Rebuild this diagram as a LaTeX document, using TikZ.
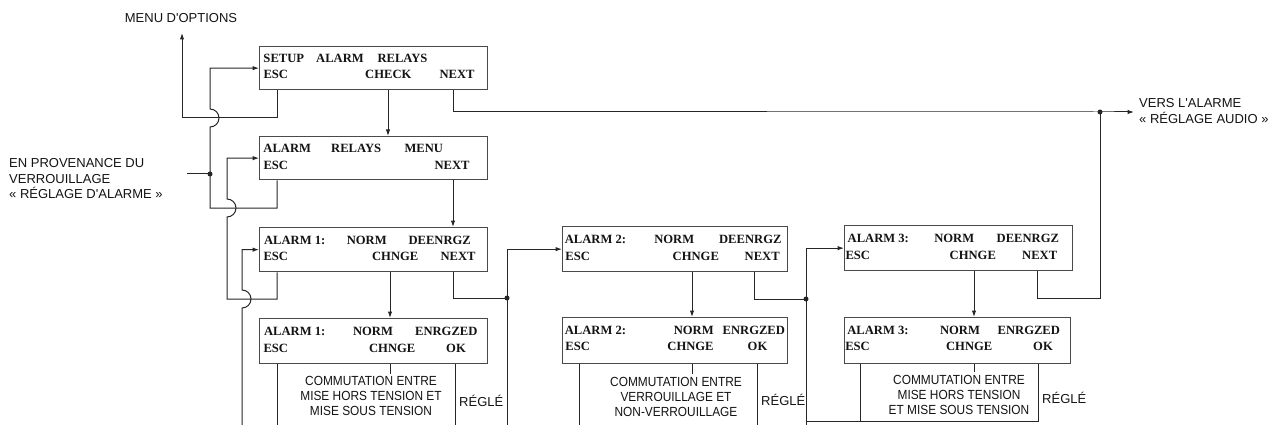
\documentclass[tikz,border=0pt]{standalone}
\usepackage{fontspec}
\setmainfont{Liberation Serif}
\newfontfamily\lsans{Liberation Sans}
\newfontfamily\lsansc{Liberation Sans}[FakeStretch=0.9]
\usetikzlibrary{arrows.meta}
\definecolor{ln}{HTML}{262626}
\definecolor{bx}{HTML}{4A4A4A}
\definecolor{tx}{HTML}{141414}
\tikzset{
  conn/.style={draw=ln, line width=1pt},
  arr/.style={conn, -{Latex[length=6.5pt,width=4.5pt]}},
  boxn/.style={draw=bx, line width=1.3pt, anchor=north west, inner sep=0pt},
  wd/.style={font=\bfseries\fontsize{12.6}{14}\selectfont, inner sep=0pt, text=tx},
  lab/.style={font=\lsans\fontsize{13}{15.5}\selectfont, inner sep=0pt, align=left, text=tx},
  com/.style={font=\lsansc\fontsize{13.2}{15.3}\selectfont, fill=white, inner sep=1.5pt, align=center, text=tx},
  rg/.style={font=\lsans\fontsize{13}{15}\selectfont, inner sep=1pt, anchor=west, text=tx},
  dot/.style={circle, fill=ln, inner sep=0pt, minimum size=5pt},
}
\begin{document}
\begin{tikzpicture}[x=1pt,y=-1pt]
\fill[white] (0,0) rectangle (1272,425);
\useasboundingbox (0,0) rectangle (1272,425);

% column coordinates
\coordinate (c210) at (210,0);
\coordinate (c227) at (227,0);
\coordinate (c242) at (242,0);
\coordinate (c277) at (277,0);
\coordinate (c388) at (388,0);
\coordinate (c390) at (390,0);
\coordinate (c453) at (453,0);
\coordinate (c455) at (455,0);
\coordinate (c507) at (507,0);
\coordinate (c579) at (579,0);
\coordinate (c692) at (692,0);
\coordinate (c754) at (754,0);
\coordinate (c757) at (757,0);
\coordinate (c806) at (806,0);
\coordinate (c860) at (860,0);
\coordinate (c974) at (974,0);
\coordinate (c1037) at (1037,0);
\coordinate (c1038) at (1038,0);

% junctions and free ends
\coordinate (jIn) at (210,174);
\coordinate (inL) at (187,174);
\coordinate (jR) at (1100,112);
\coordinate (vTip) at (1134,112);
\coordinate (jC) at (507,298);
\coordinate (jE) at (806,299);
\coordinate (mB) at (182,118);
\coordinate (mTip) at (182,33);
\coordinate (b242) at (242,425);
\coordinate (b277) at (277,425);
\coordinate (b455) at (455,425);
\coordinate (b507) at (507,425);
\coordinate (b579) at (579,425);
\coordinate (b757) at (757,425);
\coordinate (b806) at (806,425);
\coordinate (h860) at (860,421);
\coordinate (hL) at (806,421);
\coordinate (hR) at (1038,421);

% labels
\node[lab, anchor=center] (menu) at (181,18) {MENU D'OPTIONS};
\node[lab, anchor=west] (prov) at (9,179) {EN PROVENANCE DU\\VERROUILLAGE\\« RÉGLAGE D'ALARME »};
\node[lab, anchor=west] (vers) at (1139,111) {VERS L'ALARME\\« RÉGLAGE AUDIO »};

% boxes
\node[boxn, minimum width=228pt, minimum height=43pt] (A) at (259,46) {};
\node[boxn, minimum width=228pt, minimum height=43pt] (B) at (259,136) {};
\node[boxn, minimum width=228pt, minimum height=44pt] (C) at (259,227) {};
\node[boxn, minimum width=228pt, minimum height=45pt] (D) at (259,318) {};
\node[boxn, minimum width=225pt, minimum height=45pt] (E) at (562,226) {};
\node[boxn, minimum width=225pt, minimum height=46pt] (F) at (562,317) {};
\node[boxn, minimum width=228pt, minimum height=45pt] (G) at (844,225) {};
\node[boxn, minimum width=226pt, minimum height=46pt] (H) at (844,317) {};

% box A words
\node[wd] (A1) at (283.8,58.5) {SETUP};
\node[wd] (A2) at (340,58.5) {ALARM};
\node[wd] (A3) at (402.5,58.5) {RELAYS};
\node[wd] (A4) at (275.8,74.5) {ESC};
\node[wd] (A5) at (388.3,74.5) {CHECK};
\node[wd] (A6) at (457,74.5) {NEXT};
% box B words
\node[wd] (B1) at (287.2,148) {ALARM};
\node[wd] (B2) at (356.2,148) {RELAYS};
\node[wd] (B3) at (423.8,148) {MENU};
\node[wd] (B4) at (275.8,165) {ESC};
\node[wd] (B5) at (452,165) {NEXT};
% box C words
\node[wd] (C1) at (294.7,240) {ALARM 1:};
\node[wd] (C2) at (366.7,240) {NORM};
\node[wd] (C3) at (439.7,240) {DEENRGZ};
\node[wd] (C4) at (275.8,256.7) {ESC};
\node[wd] (C5) at (395.2,256.7) {CHNGE};
\node[wd] (C6) at (458,256.7) {NEXT};
% box D words
\node[wd] (D1) at (294.7,331.7) {ALARM 1:};
\node[wd] (D2) at (373,331.7) {NORM};
\node[wd] (D3) at (446.3,331.7) {ENRGZED};
\node[wd] (D4) at (275.8,348.3) {ESC};
\node[wd] (D5) at (392.2,348.3) {CHNGE};
\node[wd] (D6) at (456,348.3) {OK};
% box E words
\node[wd] (E1) at (595.5,239.3) {ALARM 2:};
\node[wd] (E2) at (674.2,239.3) {NORM};
\node[wd] (E3) at (750.3,239.3) {DEENRGZ};
\node[wd] (E4) at (577.7,256) {ESC};
\node[wd] (E5) at (695.8,256) {CHNGE};
\node[wd] (E6) at (762.2,256) {NEXT};
% box F words
\node[wd] (F1) at (595.5,330.7) {ALARM 2:};
\node[wd] (F2) at (693.7,330.7) {NORM};
\node[wd] (F3) at (753.8,330.7) {ENRGZED};
\node[wd] (F4) at (577.7,346.7) {ESC};
\node[wd] (F5) at (690.5,346.7) {CHNGE};
\node[wd] (F6) at (757.5,346.7) {OK};
% box G words
\node[wd] (G1) at (878.3,238.3) {ALARM 3:};
\node[wd] (G2) at (954.2,238.3) {NORM};
\node[wd] (G3) at (1027.8,238.3) {DEENRGZ};
\node[wd] (G4) at (857.8,255) {ESC};
\node[wd] (G5) at (972.8,255) {CHNGE};
\node[wd] (G6) at (1039.7,255) {NEXT};
% box H words
\node[wd] (H1) at (878,330) {ALARM 3:};
\node[wd] (H2) at (960,330) {NORM};
\node[wd] (H3) at (1028.8,330) {ENRGZED};
\node[wd] (H4) at (857.5,346.7) {ESC};
\node[wd] (H5) at (969.2,346.7) {CHNGE};
\node[wd] (H6) at (1043,346.7) {OK};

% ---- connectors ----
% A ESC -> menu
\draw[arr] (A.south -| c277) |- (mB) -- (mTip);
% B ESC -> A (with hop over the menu line)
\draw[arr] (B.south -| c277) -- (277,208) -- (210,208) -- (210,127)
   arc[start angle=90, end angle=-90, radius=9] -- (A.west -| c210) -- (A.west);
% incoming
\draw[conn] (inL) -- (jIn);
\node[dot] (dIn) at (jIn) {};
% A CHECK -> B
\draw[arr] (A.south -| c388) -- (B.north -| c388);
% A NEXT -> audio
\draw[arr] (A.south -| c453) |- (jR) -- (vTip);
\node[dot] (dR) at (jR) {};
% B NEXT -> C
\draw[arr] (B.south -| c453) -- (C.north -| c453);
% C ESC -> B
\draw[arr] (C.south -| c277) -- (277,299) -- (227,299) -- (227,217)
   arc[start angle=90, end angle=-90, radius=9] -- (B.west -| c227) -- (B.west);
% from below -> C
\draw[arr] (b242) -- (242,308)
   arc[start angle=90, end angle=-90, radius=9] -- (C.west -| c242) -- (C.west);
% C CHNGE -> D
\draw[arr] (C.south -| c390) -- (D.north -| c390);
% C NEXT -> junction
\draw[conn] (C.south -| c453) |- (jC);
\node[dot] (dC) at (jC) {};
% vertical into E
\draw[arr] (b507) -- (E.west -| c507) -- (E.west);
% D exits
\draw[conn] (D.south -| c277) -- (b277);
\draw[conn] (D.south -| c390) -- (390,374);
\draw[conn] (D.south -| c455) -- (b455);
% E CHNGE -> F
\draw[arr] (E.south -| c692) -- (F.north -| c692);
% E NEXT -> junction
\draw[conn] (E.south -| c754) |- (jE);
\node[dot] (dE) at (jE) {};
% vertical into G
\draw[arr] (b806) -- (G.west -| c806) -- (G.west);
% F exits
\draw[conn] (F.south -| c579) -- (b579);
\draw[conn] (F.south -| c692) -- (692,374);
\draw[conn] (F.south -| c757) -- (b757);
% G CHNGE -> H
\draw[arr] (G.south -| c974) -- (H.north -| c974);
% G NEXT -> audio line
\draw[conn] (G.south -| c1037) |- (1100,298) -- (jR);
% H exits
\draw[conn] (H.south -| c860) -- (h860);
\draw[conn] (H.south -| c974) -- (974,372);
\draw[conn] (H.south -| c1038) -- (hR) -- (hL);

% bottom texts
\node[com] (t1) at (371,396) {COMMUTATION ENTRE\\MISE HORS TENSION ET\\MISE SOUS TENSION};
\node[com] (t2) at (676,397) {COMMUTATION ENTRE\\VERROUILLAGE ET\\NON-VERROUILLAGE};
\node[com] (t3) at (959,395) {COMMUTATION ENTRE\\MISE HORS TENSION\\ET MISE SOUS TENSION};
\node[rg] (r1) at (458,401) {RÉGLÉ};
\node[rg] (r2) at (760,400) {RÉGLÉ};
\node[rg] (r3) at (1041,398) {RÉGLÉ};
\end{tikzpicture}
\end{document}
